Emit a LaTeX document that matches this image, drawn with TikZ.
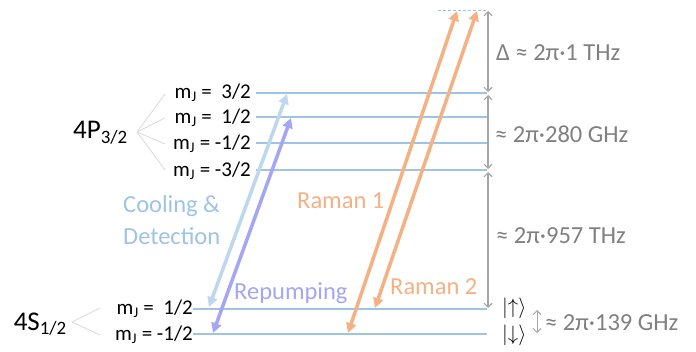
\documentclass[tikz,border=0pt]{standalone}
\usepackage{fontspec}
\setmainfont{Carlito}
\usetikzlibrary{arrows.meta}
\definecolor{lvl}{RGB}{157,195,230}
\definecolor{cool}{RGB}{189,215,238}
\definecolor{coolt}{RGB}{157,195,230}
\definecolor{rep}{RGB}{165,165,245}
\definecolor{ram}{RGB}{244,177,131}
\definecolor{gar}{RGB}{166,166,166}
\definecolor{gtx}{RGB}{128,128,128}
\definecolor{fan}{RGB}{217,217,217}
\begin{document}
\begin{tikzpicture}[x=1pt,y=-1pt,
  level/.style={draw=lvl,line width=1.2pt},
  beam/.style={line width=3.5pt,{Triangle[length=10pt,width=10pt]}-{Triangle[length=10pt,width=10pt]}},
  gap/.style={draw=gar,line width=1.1pt,{Straight Barb[length=4pt,width=8pt]}-{Straight Barb[length=4pt,width=8pt]}},
  fanline/.style={draw=fan,line width=0.8pt},
  mj/.style={anchor=east,inner sep=0pt,font=\fontsize{21}{24}\selectfont},
  term/.style={anchor=east,inner sep=0pt,font=\fontsize{27}{30}\selectfont},
  gtext/.style={anchor=west,inner sep=0pt,text=gtx,font=\fontsize{24.5}{28}\selectfont},
  ctext/.style={anchor=west,inner sep=0pt,font=\fontsize{24.5}{28}\selectfont}]
\useasboundingbox (0,0) rectangle (696,352);
% level coordinates
\coordinate (vL) at (438,10);   \coordinate (vR) at (487,10);
\coordinate (p3L) at (256,93);  \coordinate (p3R) at (487,93);
\coordinate (p1L) at (256,117); \coordinate (p1R) at (487,117);
\coordinate (pm1L) at (256,143);\coordinate (pm1R) at (487,143);
\coordinate (pm3L) at (256,170);\coordinate (pm3R) at (487,170);
\coordinate (s1L) at (193,309); \coordinate (s1R) at (487,309);
\coordinate (sm1L) at (193,334);\coordinate (sm1R) at (487,334);
% levels
\draw[draw=lvl,line width=0.9pt,dashed,dash pattern=on 3pt off 2pt] (vL) -- (vR);
\draw[level] (p3L) -- (p3R);
\draw[level] (p1L) -- (p1R);
\draw[level] (pm1L) -- (pm1R);
\draw[level] (pm3L) -- (pm3R);
\draw[level] (s1L) -- (s1R);
\draw[level] (sm1L) -- (sm1R);
% term labels
\node[term] (P) at (128,133) {4P\textsubscript{3/2}};
\node[term] (S) at (67,324) {4S\textsubscript{1/2}};
\coordinate (Pf) at (137,132);
\coordinate (Sf) at (72,322);
\coordinate (Pf3) at (165,94); \coordinate (Pf1) at (165,118);
\coordinate (Pfm1) at (165,144); \coordinate (Pfm3) at (165,170);
\coordinate (Sf1) at (100,308); \coordinate (Sfm1) at (100,335);
\foreach \t in {Pf3,Pf1,Pfm1,Pfm3} \draw[fanline] (Pf) -- (\t);
\foreach \t in {Sf1,Sfm1} \draw[fanline] (Sf) -- (\t);
% mJ labels
\node[mj] (m3) at (251,93) {m\textsubscript{J} =\ \ 3/2};
\node[mj] (m1) at (251,118) {m\textsubscript{J} =\ \ 1/2};
\node[mj] (mm1) at (251,144) {m\textsubscript{J} = -1/2};
\node[mj] (mm3) at (251,171) {m\textsubscript{J} = -3/2};
\node[mj] (ms1) at (193,309) {m\textsubscript{J} =\ \ 1/2};
\node[mj] (msm1) at (193,335) {m\textsubscript{J} = -1/2};
% beams
\coordinate (cB) at (209,307); \coordinate (cT) at (287,94);
\coordinate (rB) at (213,333); \coordinate (rT) at (291,118);
\coordinate (r1B) at (348,333); \coordinate (r1T) at (457,11);
\coordinate (r2B) at (375,308); \coordinate (r2T) at (477,11);
\draw[beam,draw=cool,color=cool] (cB) -- (cT);
\draw[beam,draw=rep,color=rep] (rB) -- (rT);
\draw[beam,draw=ram,color=ram] (r1B) -- (r1T);
\draw[beam,draw=ram,color=ram] (r2B) -- (r2T);
% beam labels
\node[ctext,text=coolt] (cool1) at (123,206) {Cooling \&};
\node[ctext,text=coolt] (cool2) at (123,236) {Detection};
\node[ctext,text=rep] (rep) at (234,293) {Repumping};
\node[ctext,text=ram] (ram1) at (297,201) {Raman 1};
\node[ctext,text=ram] (ram2) at (390,287) {Raman 2};
% gaps
\coordinate (g0) at (488,11); \coordinate (g1) at (488,92);
\coordinate (g2) at (488,95); \coordinate (g3) at (488,169);
\coordinate (g4) at (488,172); \coordinate (g5) at (488,308);
\coordinate (h1) at (537,310); \coordinate (h2) at (537,333);
\draw[gap] (g0) -- (g1);
\draw[gap] (g2) -- (g3);
\draw[gap] (g4) -- (g5);
\draw[gap,line width=0.9pt] (h1) -- (h2);
\node[gtext] (delta) at (496,53) {Δ ≈ 2π·1 THz};
\node[gtext] (f280) at (495,134) {≈ 2π·280 GHz};
\node[gtext] (f957) at (496,236) {≈ 2π·957 THz};
\node[gtext] (f139) at (545,323) {≈ 2π·139 GHz};
\node[anchor=west,inner sep=0pt,font=\fontsize{21}{24}\selectfont] (up) at (502,308) {$|{\uparrow}\rangle$};
\node[anchor=west,inner sep=0pt,font=\fontsize{21}{24}\selectfont] (dn) at (502,335) {$|{\downarrow}\rangle$};
\end{tikzpicture}
\end{document}
